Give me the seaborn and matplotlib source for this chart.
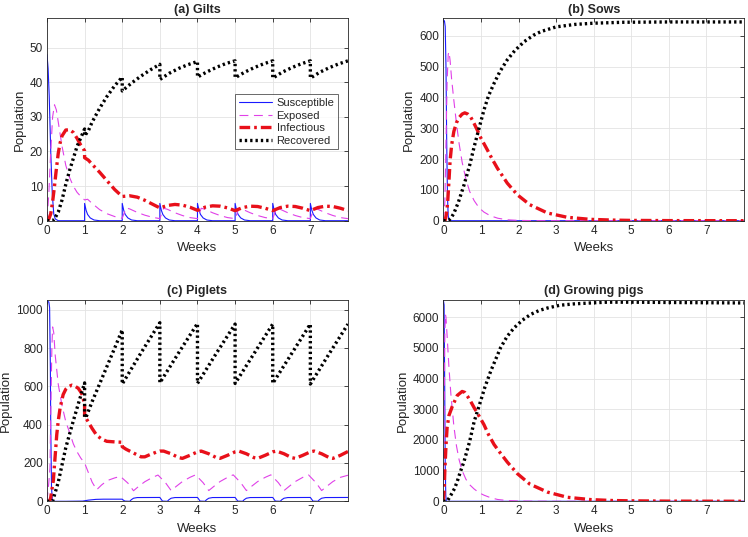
import matplotlib
matplotlib.use("Agg")
import matplotlib.pyplot as plt
import seaborn as sns

# ---- data (weeks, head count) ----

# (a) Gilts
gilts_S_t = [0, 0.03, 0.06, 0.1, 0.14, 0.18, 0.22, 0.3,
             1.0, 1.0, 1.04, 1.08, 1.15, 1.25, 1.4,
             2.0, 2.0, 2.04, 2.08, 2.15, 2.25, 2.4,
             3.0, 3.0, 3.04, 3.08, 3.15, 3.25, 3.4,
             4.0, 4.0, 4.04, 4.08, 4.15, 4.25, 4.4,
             5.0, 5.0, 5.04, 5.08, 5.15, 5.25, 5.4,
             6.0, 6.0, 6.04, 6.08, 6.15, 6.25, 6.4,
             7.0, 7.0, 7.04, 7.08, 7.15, 7.25, 7.4, 8.0]
gilts_S = [48, 44, 36, 20, 8, 2, 0.5, 0,
           0, 5.0, 3.0, 1.8, 0.8, 0.2, 0,
           0, 5.0, 3.0, 1.8, 0.8, 0.2, 0,
           0, 5.0, 3.0, 1.8, 0.8, 0.2, 0,
           0, 5.0, 3.0, 1.8, 0.8, 0.2, 0,
           0, 5.0, 3.0, 1.8, 0.8, 0.2, 0,
           0, 5.0, 3.0, 1.8, 0.8, 0.2, 0,
           0, 5.0, 3.0, 1.8, 0.8, 0.2, 0, 0]

gilts_E_t = [0, 0.05, 0.1, 0.15, 0.2, 0.25, 0.3, 0.4, 0.5, 0.6, 0.7, 0.8, 0.9, 1.0,
             1.08, 1.2, 1.4, 1.6, 1.8, 2.0,
             2.1, 2.2, 2.4, 2.6, 2.8, 3.0,
             3.1, 3.2, 3.4, 3.6, 3.8, 4.0,
             4.1, 4.2, 4.4, 4.6, 4.8, 5.0,
             5.1, 5.2, 5.4, 5.6, 5.8, 6.0,
             6.1, 6.2, 6.4, 6.6, 6.8, 7.0,
             7.1, 7.2, 7.4, 7.6, 7.8, 8.0]
gilts_E = [0, 8, 20, 30, 33.5, 32, 28.5, 21.5, 16, 12.5, 10, 8.2, 7, 6.0,
           6.2, 5.0, 3.2, 2.0, 1.2, 0.7,
           3.7, 3.4, 2.4, 1.6, 1.0, 0.6,
           3.6, 3.3, 2.3, 1.5, 0.9, 0.6,
           3.6, 3.3, 2.3, 1.5, 0.9, 0.6,
           3.6, 3.3, 2.3, 1.5, 0.9, 0.6,
           3.6, 3.3, 2.3, 1.5, 0.9, 0.6,
           3.6, 3.3, 2.3, 1.5, 0.9, 0.6]

gilts_I_t = [0, 0.05, 0.1, 0.15, 0.2, 0.25, 0.3, 0.35, 0.4, 0.5, 0.6, 0.7, 0.8, 0.9, 1.0,
             1.0, 1.1, 1.2, 1.4, 1.6, 1.8, 2.0,
             2.2, 2.4, 2.6, 2.8, 3.0,
             3.2, 3.4, 3.6, 3.8, 4.0,
             4.2, 4.4, 4.6, 4.8, 5.0,
             5.2, 5.4, 5.6, 5.8, 6.0,
             6.2, 6.4, 6.6, 6.8, 7.0,
             7.2, 7.4, 7.6, 7.8, 8.0]
gilts_I = [0, 0.5, 2, 5.5, 10, 15, 19.5, 22.5, 24.5, 26.2, 26.3, 25.5, 23.8, 21.8, 20.2,
           18.2, 17.5, 16.3, 14, 11.5, 9, 7,
           7.2, 6.8, 5.9, 4.8, 3.7,
           4.4, 4.7, 4.5, 3.9, 3.0,
           3.9, 4.3, 4.2, 3.7, 2.9,
           3.8, 4.2, 4.1, 3.6, 2.9,
           3.8, 4.2, 4.1, 3.6, 2.9,
           3.8, 4.2, 4.1, 3.6, 2.9]

gilts_R_t = [0, 0.15, 0.2, 0.3, 0.4, 0.5, 0.6, 0.7, 0.8, 0.9, 1.0,
             1.0, 1.1, 1.2, 1.4, 1.6, 1.8, 2.0,
             2.0, 2.25, 2.5, 2.75, 3.0,
             3.0, 3.25, 3.5, 3.75, 4.0,
             4.0, 4.25, 4.5, 4.75, 5.0,
             5.0, 5.25, 5.5, 5.75, 6.0,
             6.0, 6.25, 6.5, 6.75, 7.0,
             7.0, 7.25, 7.5, 7.75, 8.0]
gilts_R = [0, 0, 0.5, 2.5, 6, 10.5, 14.5, 18, 21.5, 24, 26.5,
           24.5, 26, 28.5, 32.5, 36, 39, 41.5,
           37.5, 39.8, 41.8, 43.6, 45.2,
           40.8, 42.6, 44.0, 45.1, 46.0,
           41.5, 43.0, 44.3, 45.4, 46.2,
           41.3, 42.9, 44.2, 45.3, 46.2,
           41.2, 42.9, 44.2, 45.3, 46.2,
           41.2, 42.9, 44.2, 45.3, 46.2]

# (b) Sows
sows_S_t = [0, 0.03, 0.05, 0.07, 0.09, 0.11, 0.13, 0.16, 8.0]
sows_S = [652, 648, 630, 500, 250, 80, 15, 0, 0]

sows_E_t = [0, 0.04, 0.07, 0.1, 0.13, 0.15, 0.18, 0.22, 0.28, 0.35, 0.42, 0.5, 0.6, 0.7,
            0.82, 0.95, 1.08, 1.25, 1.45, 1.7, 2.0, 2.5, 8.0]
sows_E = [0, 60, 250, 450, 540, 548, 520, 460, 390, 315, 250, 190, 135, 95,
          65, 42, 28, 16, 8, 3, 1, 0, 0]

sows_I_t = [0, 0.05, 0.08, 0.1, 0.12, 0.15, 0.18, 0.22, 0.28, 0.35, 0.42, 0.5, 0.57, 0.65,
            0.73, 0.82, 0.9, 1.0, 1.17, 1.3, 1.44, 1.7, 1.97, 2.3, 2.77, 3.3, 3.9, 4.5,
            5.0, 6.0, 8.0]
sows_I = [0, 2, 20, 40, 70, 130, 195, 245, 290, 318, 335, 346, 350, 346,
          336, 315, 295, 268, 230, 200, 170, 122, 84, 52, 25, 11, 4.5, 2,
          1, 0.3, 0]

sows_R_t = [0, 0.1, 0.15, 0.2, 0.28, 0.4, 0.55, 0.7, 0.82, 0.95, 1.08, 1.2, 1.35, 1.5,
            1.7, 1.9, 2.15, 2.4, 2.6, 3.0, 3.5, 4.0, 4.8, 6.0, 8.0]
sows_R = [0, 0, 2, 8, 24, 60, 116, 180, 240, 300, 359, 405, 446, 483,
          522, 552, 581, 602, 614, 629, 637, 641, 644, 645, 645]

# (c) Piglets
piglets_S_t = [0, 0.05, 0.07, 0.09, 0.1, 0.12, 0.14, 0.17, 0.5, 0.95, 1.1, 1.3, 1.5,
               2.0, 2.03, 2.07, 2.2, 2.24, 2.3, 2.4,
               3.0, 3.03, 3.07, 3.2, 3.24, 3.3, 3.4,
               4.0, 4.03, 4.07, 4.2, 4.24, 4.3, 4.4,
               5.0, 5.03, 5.07, 5.2, 5.24, 5.3, 5.4,
               6.0, 6.03, 6.07, 6.2, 6.24, 6.3, 6.4,
               7.0, 7.03, 7.07, 7.2, 7.24, 7.3, 7.4, 8.0]
piglets_S = [1045, 1040, 1010, 700, 400, 80, 10, 0, 0, 1, 6, 10, 11,
             11, 6, 1, 0, 8, 16, 19.5,
             20, 12, 1, 0, 8, 16, 19.5,
             20, 12, 1, 0, 8, 16, 19.5,
             20, 12, 1, 0, 8, 16, 19.5,
             20, 12, 1, 0, 8, 16, 19.5,
             20, 12, 1, 0, 8, 16, 19.5, 20]

piglets_E_t = [0, 0.05, 0.08, 0.1, 0.13, 0.15, 0.18, 0.22, 0.3, 0.4, 0.5, 0.6, 0.7, 0.8,
               0.9, 1.0, 1.1, 1.2, 1.32, 1.45, 1.6, 1.8, 1.95,
               2.15, 2.3, 2.45, 2.6, 2.8, 2.95,
               3.15, 3.3, 3.45, 3.6, 3.8, 3.95,
               4.15, 4.3, 4.45, 4.6, 4.8, 4.95,
               5.15, 5.3, 5.45, 5.6, 5.8, 5.95,
               6.15, 6.3, 6.45, 6.6, 6.8, 6.95,
               7.15, 7.3, 7.45, 7.6, 7.8, 8.0]
piglets_E = [0, 100, 175, 450, 800, 910, 880, 760, 610, 500, 415, 360, 300, 258,
             225, 200, 150, 100, 60, 85, 108, 122, 130,
             95, 55, 80, 102, 124, 137,
             97, 56, 80, 103, 125, 138,
             97, 56, 80, 103, 125, 138,
             97, 56, 80, 103, 125, 138,
             97, 56, 80, 103, 125, 138,
             97, 56, 80, 103, 125, 136]

piglets_I_t = [0, 0.07, 0.1, 0.13, 0.17, 0.2, 0.26, 0.3, 0.35, 0.43, 0.5, 0.57, 0.66,
               0.75, 0.83, 0.9, 0.95, 1.0, 1.0, 1.05, 1.14, 1.2, 1.32, 1.45, 1.59,
               1.8, 2.0, 2.0, 2.1, 2.3, 2.5, 2.6, 2.74, 2.9, 3.0,
               3.1, 3.3, 3.5, 3.6, 3.8, 4.0,
               4.1, 4.3, 4.5, 4.6, 4.8, 5.0,
               5.1, 5.3, 5.5, 5.6, 5.8, 6.0,
               6.1, 6.3, 6.5, 6.6, 6.8, 7.0,
               7.1, 7.3, 7.5, 7.6, 7.8, 8.0]
piglets_I = [0, 0, 20, 60, 110, 190, 348, 420, 488, 557, 585, 598, 606,
             600, 590, 570, 550, 500, 440, 430, 400, 380, 345, 325, 313,
             310, 308, 285, 272, 252, 232, 232, 244, 256, 262,
             262, 248, 228, 224, 240, 258,
             262, 248, 228, 224, 240, 258,
             262, 248, 228, 224, 240, 258,
             262, 248, 228, 224, 240, 258,
             262, 248, 228, 224, 240, 260]

piglets_R_t = [0, 0.15, 0.3, 0.5, 0.7, 0.85, 1.0, 1.0, 1.03, 1.2, 1.5, 1.8, 2.0,
               2.0, 2.5, 3.0, 3.0, 3.5, 4.0, 4.0, 4.5, 5.0,
               5.0, 5.5, 6.0, 6.0, 6.5, 7.0, 7.0, 7.5, 8.0]
piglets_R = [0, 0, 100, 280, 420, 520, 618, 440, 435, 520, 660, 800, 895,
             612, 775, 932, 618, 775, 928, 615, 772, 925,
             615, 770, 925, 615, 770, 925, 612, 770, 925]

# (d) Growing pigs
growers_S_t = [0, 0.02, 0.035, 0.05, 0.065, 0.08, 8.0]
growers_S = [6560, 6400, 4000, 1200, 200, 0, 0]

growers_E_t = [0, 0.02, 0.04, 0.055, 0.07, 0.1, 0.15, 0.2, 0.28, 0.35, 0.42, 0.5, 0.6,
               0.7, 0.82, 0.95, 1.08, 1.25, 1.44, 1.7, 2.0, 2.5, 3.0, 8.0]
growers_E = [0, 2500, 5500, 6100, 6000, 5400, 4350, 3500, 2450, 1800, 1350, 1000, 720,
             540, 400, 280, 200, 120, 60, 25, 8, 2, 0, 0]

growers_I_t = [0, 0.02, 0.04, 0.07, 0.1, 0.15, 0.24, 0.37, 0.5, 0.57, 0.64, 0.73, 0.82,
               0.95, 1.08, 1.2, 1.35, 1.5, 1.7, 1.97, 2.3, 2.77, 3.3, 3.92, 4.5, 5.0,
               6.0, 8.0]
growers_I = [0, 300, 1000, 1800, 2400, 2800, 3100, 3450, 3580, 3550, 3430, 3250, 3050,
             2780, 2500, 2180, 1850, 1600, 1280, 900, 560, 300, 130, 55, 25, 15,
             5, 0]

growers_R_t = [0, 0.1, 0.2, 0.3, 0.37, 0.45, 0.55, 0.7, 0.82, 0.99, 1.1, 1.26, 1.4,
               1.52, 1.7, 1.88, 2.1, 2.32, 2.55, 2.77, 3.1, 3.48, 4.0, 4.36, 5.0,
               6.0, 8.0]
growers_R = [0, 0, 200, 420, 650, 950, 1300, 1950, 2600, 3260, 3700, 4240, 4650,
             5000, 5380, 5650, 5900, 6090, 6220, 6300, 6390, 6435, 6470, 6490, 6490,
             6480, 6465]

week_ticks = [0, 1, 2, 3, 4, 5, 6, 7]
series_names = ["Susceptible", "Exposed", "Infectious", "Recovered"]

# ---- style ----
sns.set_theme(style="whitegrid")
plt.rcParams["font.family"] = ["Liberation Sans", "DejaVu Sans"]
GREY = "#262626"

line_kw = {
    "Susceptible": dict(color="#1a1aff", linestyle="-", linewidth=0.8),
    "Exposed": dict(color="#e040e8", linestyle=(0, (8, 5)), linewidth=0.8),
    "Infectious": dict(color="#e8101a", linestyle=(0, (3.2, 1.2, 0.8, 1.2)), linewidth=2.4),
    "Recovered": dict(color="black", linestyle=(0, (0.7, 0.9)), linewidth=2.4),
}


def draw_panel(ax, curves, title, ylim, yticks, legend=False):
    for name, (t, v) in zip(series_names, curves):
        sns.lineplot(x=t, y=v, ax=ax, estimator=None, sort=False,
                     label=name if legend else None, **line_kw[name])
    ax.set_xlim(0, 8)
    ax.set_ylim(*ylim)
    ax.set_xticks(week_ticks)
    ax.set_yticks(yticks)
    ax.set_title(title, fontsize=9, fontweight="bold", pad=4)
    ax.set_xlabel("Weeks", fontsize=9.5, color=GREY, labelpad=4)
    ax.set_ylabel("Population", fontsize=9.5, color=GREY, labelpad=3)
    ax.tick_params(axis="both", direction="in", length=3, width=0.6, colors=GREY,
                   labelsize=8.5, top=True, right=True, pad=3)
    ax.grid(True, color="#e3e3e3", linewidth=0.6)
    ax.set_facecolor("white")
    for sp in ax.spines.values():
        sp.set_visible(True)
        sp.set_color(GREY)
        sp.set_linewidth(0.6)
    if legend:
        leg = ax.legend(loc="upper right", bbox_to_anchor=(0.968, 0.624), fontsize=8,
                        frameon=True, fancybox=False, handlelength=3.0,
                        borderpad=0.35, labelspacing=0.22, handletextpad=0.4,
                        borderaxespad=0)
        leg.get_frame().set_edgecolor(GREY)
        leg.get_frame().set_linewidth(0.6)
        for txt in leg.get_texts():
            txt.set_color(GREY)


fig = plt.figure(figsize=(7.48, 5.37), dpi=100)
ax_a = fig.add_axes([0.0628, 0.589, 0.4024, 0.377])
ax_b = fig.add_axes([0.5927, 0.589, 0.402, 0.377])
ax_c = fig.add_axes([0.0628, 0.0665, 0.4024, 0.375])
ax_d = fig.add_axes([0.5927, 0.0665, 0.402, 0.375])

draw_panel(ax_a, [(gilts_S_t, gilts_S), (gilts_E_t, gilts_E),
                  (gilts_I_t, gilts_I), (gilts_R_t, gilts_R)],
           "(a) Gilts", (0, 58.5), [0, 10, 20, 30, 40, 50], legend=True)
draw_panel(ax_b, [(sows_S_t, sows_S), (sows_E_t, sows_E),
                  (sows_I_t, sows_I), (sows_R_t, sows_R)],
           "(b) Sows", (0, 657), [0, 100, 200, 300, 400, 500, 600])
draw_panel(ax_c, [(piglets_S_t, piglets_S), (piglets_E_t, piglets_E),
                  (piglets_I_t, piglets_I), (piglets_R_t, piglets_R)],
           "(c) Piglets", (0, 1051), [0, 200, 400, 600, 800, 1000])
draw_panel(ax_d, [(growers_S_t, growers_S), (growers_E_t, growers_E),
                  (growers_I_t, growers_I), (growers_R_t, growers_R)],
           "(d) Growing pigs", (0, 6564), [0, 1000, 2000, 3000, 4000, 5000, 6000])

fig.savefig("out.png", dpi=100)
